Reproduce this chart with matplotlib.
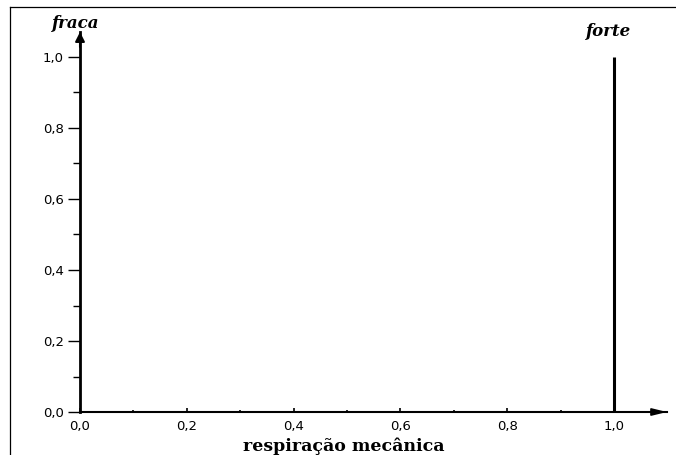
import matplotlib
matplotlib.use("Agg")
import matplotlib.pyplot as plt
from matplotlib.lines import Line2D
from matplotlib.ticker import FixedLocator, FuncFormatter

# Data
line_x = [1.0, 1.0]
line_y = [0.0, 1.0]
x_ticks = [0.0, 0.2, 0.4, 0.6, 0.8, 1.0]
y_ticks = [0.0, 0.2, 0.4, 0.6, 0.8, 1.0]
minor_ticks = [0.1, 0.3, 0.5, 0.7, 0.9]
x_label = "respiração mecânica"
left_text = "fraca"
right_text = "forte"

W, H = 676, 455
fig = plt.figure(figsize=(W / 100, H / 100), dpi=100)

# axes in pixel geometry
x0, x1 = 80, 667
y0, y1 = 412, 32
ax = fig.add_axes([x0 / W, (H - y0) / H, (x1 - x0) / W, (y0 - y1) / H])
ax.set_xlim(0, (x1 - x0) / 534)
ax.set_ylim(0, (y0 - y1) / 355)

ax.plot(line_x, line_y, color="black", lw=2.2, solid_capstyle="butt")

for s in ["top", "right"]:
    ax.spines[s].set_visible(False)
ax.spines["left"].set_linewidth(2.0)
ax.spines["bottom"].set_linewidth(1.5)

fmt = FuncFormatter(lambda v, p: f"{v:.1f}".replace(".", ","))
ax.xaxis.set_major_locator(FixedLocator(x_ticks))
ax.yaxis.set_major_locator(FixedLocator(y_ticks))
ax.xaxis.set_minor_locator(FixedLocator(minor_ticks))
ax.yaxis.set_minor_locator(FixedLocator(minor_ticks))
ax.xaxis.set_major_formatter(fmt)
ax.yaxis.set_major_formatter(fmt)

ax.tick_params(axis="x", which="major", direction="in", length=3, width=1.2, pad=5.5,
               labelsize=9.5)
ax.tick_params(axis="x", which="minor", direction="in", length=1.8, width=1.2)
ax.tick_params(axis="y", which="major", direction="out", length=8.5, width=1.0, pad=3,
               labelsize=9.5)
ax.tick_params(axis="y", which="minor", direction="out", length=5, width=1.0)
for lab in ax.get_xticklabels() + ax.get_yticklabels():
    lab.set_fontfamily("DejaVu Sans")

# arrows at the ends of the axes
ax.annotate("", xy=(1.0, 0), xycoords="axes fraction",
            xytext=(1.0 - 20 / (x1 - x0), 0), textcoords="axes fraction",
            arrowprops=dict(arrowstyle="-|>,head_length=0.9,head_width=0.22",
                            color="black", lw=1.2, shrinkA=0, shrinkB=0),
            annotation_clip=False)
ax.annotate("", xy=(0, 1.0), xycoords="axes fraction",
            xytext=(0, 1.0 - 15 / (y0 - y1)), textcoords="axes fraction",
            arrowprops=dict(arrowstyle="-|>,head_length=0.55,head_width=0.28",
                            color="black", lw=1.5, shrinkA=0, shrinkB=0),
            annotation_clip=False)

# texts
fig.text(344 / W, 1 - 446 / H, x_label, ha="center", va="center",
         fontfamily="DejaVu Serif", fontweight="bold", fontsize=12.5)
fig.text(76 / W, 1 - 23 / H, left_text, ha="center", va="center",
         fontfamily="DejaVu Serif", fontweight="bold", fontstyle="italic", fontsize=12)
fig.text(609 / W, 1 - 31 / H, right_text, ha="center", va="center",
         fontfamily="DejaVu Serif", fontweight="bold", fontstyle="italic", fontsize=12)

# frame lines (top and left)
fig.add_artist(Line2D([10 / W, 1.0], [1 - 7 / H, 1 - 7 / H], transform=fig.transFigure,
                      color="black", lw=0.9))
fig.add_artist(Line2D([10 / W, 10 / W], [1 - 7 / H, 0.0], transform=fig.transFigure,
                      color="black", lw=0.9))

fig.savefig("out.png", dpi=100)
